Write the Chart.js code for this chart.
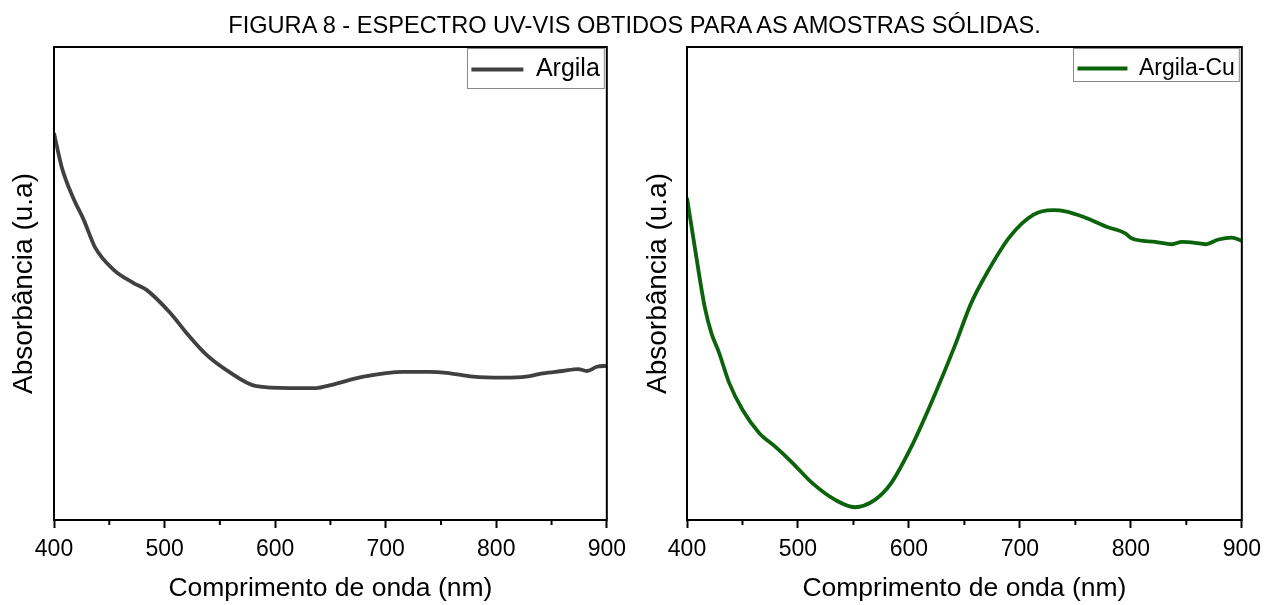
<!DOCTYPE html>
<html>
<head>
    <title>Espectro UV-Vis</title>
    <style type="text/css">
        body { margin: 0; background: #ffffff; }
        #wrap { position: relative; width: 1269px; height: 605px; overflow: hidden; }
        #titulo {
            position: absolute; left: 0; top: 10px; width: 1269px;
            text-align: center; font-family: 'Liberation Sans', Arial, sans-serif;
            font-size: 23.6px; color: #000; line-height: 30px;
        }
        .box { position: absolute; top: 0; height: 605px; }
    </style>
    <script src="https://cdn.jsdelivr.net/npm/chart.js@4.4.1/dist/chart.umd.min.js"></script>
</head>
<body>
<div id="wrap">
    <div class="box" style="left:0; width:634px;"><canvas id="chartArgila"></canvas></div>
    <div class="box" style="left:634px; width:635px;"><canvas id="chartArgilaCu"></canvas></div>
    <div id="titulo">FIGURA 8 - ESPECTRO UV-VIS OBTIDOS PARA AS AMOSTRAS SÓLIDAS.</div>
</div>
<script>
    // valores (absorbancia em unidades arbitrarias)
    var argilaWl = [400, 407, 417, 427, 437, 454, 472, 484, 505, 520, 538, 556, 583, 613, 637, 650, 680, 716, 740, 755, 779, 806, 827, 842, 860, 874, 882, 891, 900];
    var argilaAbs = [0.818, 0.746, 0.683, 0.634, 0.577, 0.529, 0.501, 0.486, 0.438, 0.395, 0.349, 0.317, 0.283, 0.279, 0.279, 0.285, 0.303, 0.313, 0.313, 0.311, 0.303, 0.301, 0.303, 0.310, 0.315, 0.319, 0.315, 0.324, 0.326];

    var argilaCuWl = [400, 407, 416, 422, 429, 438, 450, 465, 480, 495, 513, 534, 551, 569, 584, 602, 620, 641, 656, 670, 691, 712, 730, 742, 757, 778, 795, 801, 822, 837, 846, 858, 867, 879, 891, 900];
    var argilaCuAbs = [0.681, 0.577, 0.450, 0.395, 0.353, 0.290, 0.233, 0.184, 0.154, 0.121, 0.078, 0.042, 0.027, 0.042, 0.078, 0.154, 0.247, 0.366, 0.458, 0.521, 0.599, 0.645, 0.655, 0.652, 0.641, 0.620, 0.606, 0.595, 0.588, 0.583, 0.588, 0.586, 0.583, 0.593, 0.597, 0.590];

    var xTicks = [400, 500, 600, 700, 800, 900];
    var xMinorTicks = [450, 550, 650, 750, 850];

    var fonte = "'Liberation Sans', Arial, sans-serif";

    // legenda no canto superior direito, moldura completa e ticks menores
    var molduraPlugin = {
        id: 'moldura',
        afterLayout: function(chart) {
            var lg = chart.legend;
            var hb = lg.legendHitBoxes[0];
            if (!hb) return;
            var a = chart.chartArea;
            var gap = chart.options.plugins.moldura.gap;
            lg.left = a.right - gap - lg.options.labels.padding - hb.width;
            lg.top = a.top;
            lg.bottom = a.bottom;
        },
        afterDraw: function(chart) {
            var ctx = chart.ctx;
            var a = chart.chartArea;
            var xs = chart.scales.x;
            ctx.save();
            ctx.strokeStyle = '#000';
            ctx.lineWidth = 2;
            ctx.strokeRect(a.left, a.top, a.right - a.left, a.bottom - a.top);
            xMinorTicks.forEach(function(v) {
                var px = xs.getPixelForValue(v);
                ctx.beginPath();
                ctx.moveTo(px, a.bottom);
                ctx.lineTo(px, a.bottom + 5);
                ctx.stroke();
            });
            // caixa da legenda
            var hb = chart.legend.legendHitBoxes[0];
            if (hb) {
                var x0 = Math.round(hb.left) - 3.5;
                var y1 = Math.round(hb.top + hb.height) + chart.options.plugins.moldura.below + 0.5;
                ctx.strokeStyle = '#8a8a8a';
                ctx.lineWidth = 1;
                ctx.strokeRect(x0, a.top + 1.5, a.right - 2.5 - x0, y1 - a.top - 1.5);
            }
            ctx.restore();
        }
    };

    function makeChart(id, label, wl, abs, color, yWidth, padRight, fs, lineW, gap, below) {
        var ctx = document.getElementById(id).getContext('2d');
        return new Chart(ctx, {
            type: 'line',
            data: {
                datasets: [{
                    label: label,
                    data: wl.map(function(x, i) { return {x: x, y: abs[i]}; }),
                    borderColor: color,
                    backgroundColor: color,
                    borderWidth: 3.8,
                    pointRadius: 0,
                    fill: false,
                    cubicInterpolationMode: 'monotone'
                }]
            },
            options: {
                responsive: true,
                maintainAspectRatio: false,
                animation: false,
                layout: { padding: { top: 47, right: padRight, left: 0, bottom: 0 } },
                plugins: {
                    moldura: { gap: gap, below: below },
                    legend: {
                        position: 'chartArea',
                        align: 'start',
                        labels: {
                            usePointStyle: true,
                            pointStyle: 'line',
                            pointStyleWidth: lineW,
                            padding: 10,
                            color: '#000',
                            font: { family: fonte, size: fs }
                        }
                    },
                    tooltip: { enabled: false }
                },
                scales: {
                    x: {
                        type: 'linear',
                        min: 400,
                        max: 900,
                        afterBuildTicks: function(scale) {
                            scale.ticks = xTicks.map(function(v) { return {value: v}; });
                        },
                        afterFit: function(scale) { scale.height = 85; },
                        ticks: {
                            padding: 8,
                            maxRotation: 0,
                            color: '#000',
                            font: { family: fonte, size: 23 }
                        },
                        grid: {
                            display: true,
                            drawOnChartArea: false,
                            drawTicks: true,
                            tickLength: 8,
                            tickWidth: 2,
                            tickColor: '#000'
                        },
                        border: { display: true, color: '#000', width: 2 },
                        title: {
                            display: true,
                            text: 'Comprimento de onda (nm)',
                            color: '#000',
                            padding: { top: 0, bottom: 0 },
                            font: { family: fonte, size: 26.5 }
                        }
                    },
                    y: {
                        min: 0,
                        max: 1,
                        afterFit: function(scale) { scale.width = yWidth; },
                        ticks: { display: false },
                        grid: { display: false },
                        border: { display: true, color: '#000', width: 2 },
                        title: {
                            display: true,
                            text: 'Absorbância (u.a)',
                            color: '#000',
                            padding: { top: 7, bottom: 0 },
                            font: { family: fonte, size: 28 }
                        }
                    }
                }
            },
            plugins: [molduraPlugin]
        });
    }

    makeChart('chartArgila', 'Argila', argilaWl, argilaAbs, '#404040', 54, 27, 25, 52, 7, 6);
    makeChart('chartArgilaCu', 'Argila-Cu', argilaCuWl, argilaCuAbs, '#0b640b', 53, 22, 23, 50, 7, 1);
</script>
</body>
</html>
